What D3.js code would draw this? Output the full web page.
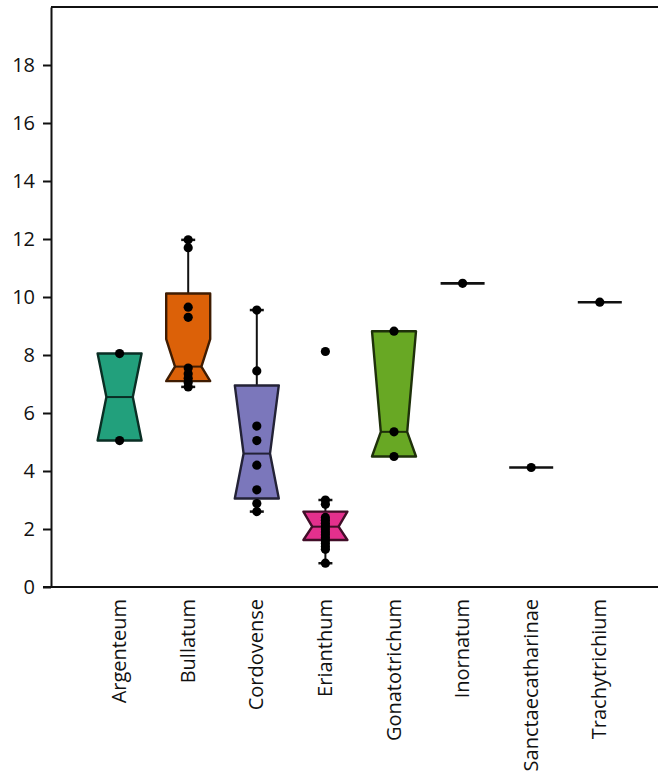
<!DOCTYPE html>
<html>
<head>
<meta charset="utf-8">
<script src="https://cdn.jsdelivr.net/npm/d3@7"></script>
<style>
  html, body { margin: 0; padding: 0; background: #fff; }
  svg { display: block; }
  text { font-family: "Open Sans", "DejaVu Sans", sans-serif; }
</style>
</head>
<body>
<svg id="chart" width="658" height="780"></svg>
<script>
// ---- data ----
const categories = ["Argenteum", "Bullatum", "Cordovense", "Erianthum", "Gonatotrichum", "Inornatum", "Sanctaecatharinae", "Trachytrichium"];
const colors     = ["#22a07c", "#dc6108", "#7b77bb", "#e3308d", "#68a824", "#e6ab02", "#a6761d", "#666666"];
const q1         = [5.05, 7.10, 3.05, 1.62, 4.50, 10.47, 4.12, 9.82];
const medians    = [6.55, 7.60, 4.60, 2.08, 5.35, 10.47, 4.12, 9.82];
const q3         = [8.05, 10.12, 6.95, 2.60, 8.82, 10.47, 4.12, 9.82];
const notchLo    = [5.05, 7.10, 3.05, 1.62, 4.50, 10.47, 4.12, 9.82];
const notchHi    = [8.05, 8.55, 6.95, 2.60, 8.82, 10.47, 4.12, 9.82];
const whiskerLo  = [5.05, 6.90, 2.60, 0.82, 4.50, 10.47, 4.12, 9.82];
const whiskerHi  = [8.05, 11.97, 9.55, 3.00, 8.82, 10.47, 4.12, 9.82];
const points = [
  [8.05, 5.05],
  [11.97, 11.70, 9.65, 9.30, 7.55, 7.35, 7.20, 7.05, 6.90],
  [9.55, 7.45, 5.55, 5.05, 4.20, 3.35, 2.88, 2.60],
  [8.12, 3.00, 2.85, 2.40, 2.30, 2.20, 2.10, 2.00, 1.90, 1.80, 1.70, 1.60, 1.50, 1.40, 1.30, 0.82],
  [8.82, 5.35, 4.50],
  [10.47],
  [4.12],
  [9.82]
];
const yTicks = [0, 2, 4, 6, 8, 10, 12, 14, 16, 18];

// ---- layout ----
const svg = d3.select("#chart");
const plotLeft = 51, plotTop = 7, plotBottom = 587, plotRight = 658;
const step = 68.6;

const x = d3.scalePoint().domain(categories).range([plotLeft, plotLeft + 9 * step]).padding(1);
const y = d3.scaleLinear().domain([0, 20]).range([plotBottom, plotTop]);
const boxW = 44;
const inset = 0.2 * boxW;
const ink = "#111";

// frame: top line
svg.append("line")
  .attr("x1", plotLeft).attr("x2", plotRight).attr("y1", plotTop).attr("y2", plotTop)
  .attr("stroke", ink).attr("stroke-width", 2);

// y axis
const yAxis = d3.axisLeft(y).tickValues(yTicks).tickSize(8).tickPadding(8).tickSizeOuter(0);
const gy = svg.append("g").attr("transform", `translate(${plotLeft},0)`).call(yAxis);
gy.select(".domain").attr("stroke", ink).attr("stroke-width", 2);
gy.selectAll(".tick line").attr("stroke", ink).attr("stroke-width", 2);
gy.selectAll(".tick text").attr("font-size", 20).attr("fill", ink)
  .attr("font-family", "'Open Sans', sans-serif");

// x axis
const xAxis = d3.axisBottom(x).tickSize(0).tickPadding(0).tickSizeOuter(0);
const gx = svg.append("g").attr("transform", `translate(0,${plotBottom})`).call(xAxis);
gx.select(".domain").remove();
gx.selectAll(".tick text")
  .attr("font-size", 20).attr("fill", ink)
  .attr("font-family", "'Open Sans', sans-serif")
  .attr("text-anchor", "end")
  .attr("transform", "translate(0,12) rotate(-90)")
  .attr("x", 0).attr("y", 0).attr("dy", "0.3em");
svg.append("line")
  .attr("x1", plotLeft - 8).attr("x2", plotRight).attr("y1", plotBottom).attr("y2", plotBottom)
  .attr("stroke", ink).attr("stroke-width", 2);

// ---- boxes ----
const g = svg.append("g");
categories.forEach((c, i) => {
  const cx = x(c);
  const L = cx - boxW / 2, R = cx + boxW / 2;
  const col = colors[i];
  const outline = d3.color(col).darker(3.5).formatHex();

  // whiskers
  if (whiskerHi[i] > q3[i]) {
    g.append("line").attr("x1", cx).attr("x2", cx)
      .attr("y1", y(q3[i])).attr("y2", y(whiskerHi[i]))
      .attr("stroke", ink).attr("stroke-width", 2);
    g.append("line").attr("x1", cx - 7).attr("x2", cx + 7)
      .attr("y1", y(whiskerHi[i])).attr("y2", y(whiskerHi[i]))
      .attr("stroke", ink).attr("stroke-width", 2.5);
  }
  if (whiskerLo[i] < q1[i]) {
    g.append("line").attr("x1", cx).attr("x2", cx)
      .attr("y1", y(q1[i])).attr("y2", y(whiskerLo[i]))
      .attr("stroke", ink).attr("stroke-width", 2);
    g.append("line").attr("x1", cx - 7).attr("x2", cx + 7)
      .attr("y1", y(whiskerLo[i])).attr("y2", y(whiskerLo[i]))
      .attr("stroke", ink).attr("stroke-width", 2.5);
  }

  if (q3[i] > q1[i]) {
    const nh = Math.min(notchHi[i], q3[i]);
    const nl = Math.max(notchLo[i], q1[i]);
    const pts = [
      [L, y(q3[i])], [L, y(nh)], [L + inset, y(medians[i])], [L, y(nl)], [L, y(q1[i])],
      [R, y(q1[i])], [R, y(nl)], [R - inset, y(medians[i])], [R, y(nh)], [R, y(q3[i])]
    ];
    g.append("path")
      .attr("d", d3.line()(pts) + "Z")
      .attr("fill", col)
      .attr("stroke", outline).attr("stroke-width", 2.4)
      .attr("stroke-linejoin", "round");
    g.append("line")
      .attr("x1", L + inset).attr("x2", R - inset)
      .attr("y1", y(medians[i])).attr("y2", y(medians[i]))
      .attr("stroke", outline).attr("stroke-width", 2);
  } else {
    g.append("line")
      .attr("x1", L).attr("x2", R)
      .attr("y1", y(medians[i])).attr("y2", y(medians[i]))
      .attr("stroke", ink).attr("stroke-width", 2.6);
  }

  // data points
  g.selectAll(null).data(points[i]).enter().append("circle")
    .attr("cx", cx).attr("cy", d => y(d)).attr("r", 4.6)
    .attr("fill", "#000");
});
</script>
</body>
</html>
